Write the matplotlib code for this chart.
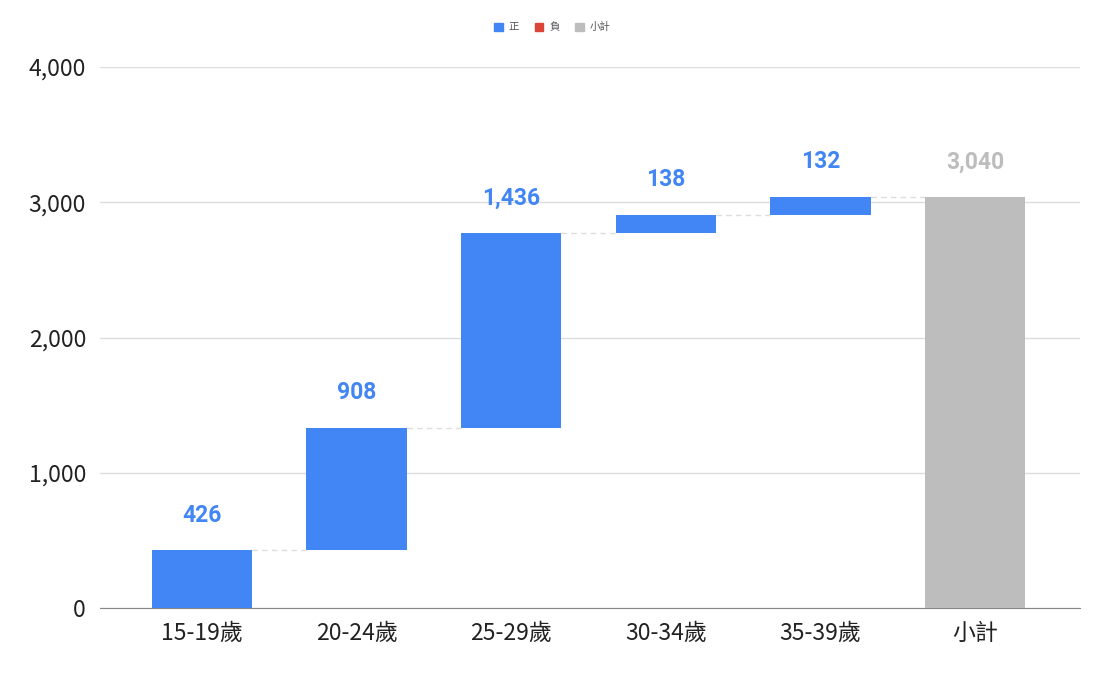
import matplotlib
matplotlib.use("Agg")
import matplotlib.pyplot as plt
from matplotlib.patches import Patch
from matplotlib.ticker import FuncFormatter

categories = ["15-19歲", "20-24歲", "25-29歲", "30-34歲", "35-39歲", "小計"]
increments = [426, 908, 1436, 138, 132]
subtotal_label = "小計"
legend_labels = ["正", "負", "小計"]
yticks = [0, 1000, 2000, 3000, 4000]

c_pos = "#4285F4"
c_neg = "#DB4437"
c_sub = "#BDBDBD"

plt.rcParams['font.family'] = ['Noto Sans CJK TC', 'DejaVu Sans']

fig = plt.figure(figsize=(10.94, 6.75), dpi=100)
ax = fig.add_axes([100/1094, 67/675, 980/1094, 541/675])

bottoms, heights, colors, labels, lcolors = [], [], [], [], []
cum = 0
for v in increments:
    bottoms.append(cum if v >= 0 else cum + v)
    heights.append(abs(v))
    colors.append(c_pos if v >= 0 else c_neg)
    labels.append(f"{v:,}")
    lcolors.append(c_pos if v >= 0 else c_neg)
    cum += v
bottoms.append(0)
heights.append(cum)
colors.append(c_sub)
labels.append(f"{cum:,}")
lcolors.append(c_sub)

x = list(range(len(categories)))
w = 0.65
ax.bar(x, heights, bottom=bottoms, width=w, color=colors, zorder=3)

# connectors
cum = 0
for i, v in enumerate(increments):
    cum += v
    ax.plot([i + w/2, i + 1 - w/2], [cum, cum], color="#DDDDDD", lw=1,
            ls=(0, (4, 3)), zorder=2)

for i in x:
    top = bottoms[i] + heights[i]
    ax.annotate(labels[i], (i, top), xytext=(0, 20.5), textcoords="offset points",
                ha="center", va="baseline", fontsize=16.5, fontweight="bold",
                color=lcolors[i], family=['Roboto', 'DejaVu Sans'])

ax.set_xlim(-0.66, 5.68)
ax.set_ylim(0, 4000)
ax.set_yticks(yticks)
ax.yaxis.set_major_formatter(FuncFormatter(lambda v, p: f"{int(v):,}"))
ax.set_xticks(x)
ax.set_xticklabels(categories)
ax.tick_params(axis="both", length=0, labelsize=16.5, colors="#222222")
ax.tick_params(axis="y", pad=10)
ax.tick_params(axis="x", pad=10)
ax.grid(axis="y", color="#DDDDDD", lw=1, zorder=0)
for s in ["top", "right", "left"]:
    ax.spines[s].set_visible(False)
ax.spines["bottom"].set_color("#888888")
ax.set_axisbelow(True)

handles = [Patch(color=c_pos), Patch(color=c_neg), Patch(color=c_sub)]
fig.legend(handles, legend_labels, loc="center", bbox_to_anchor=(0.505, 1 - 27/675),
           ncol=3, frameon=False, fontsize=7.5, handlelength=0.8, handleheight=0.8,
           handletextpad=0.6, columnspacing=1.5, labelcolor="#555555")

fig.savefig("out.png", dpi=100, facecolor="white")
